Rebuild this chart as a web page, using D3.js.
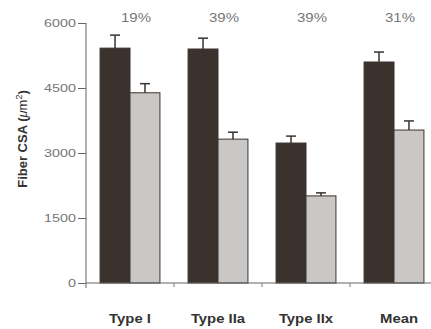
<!DOCTYPE html>
<html>
<head>
<meta charset="utf-8">
<script src="https://cdn.jsdelivr.net/npm/d3@7"></script>
<style>
  body { margin: 0; background: #fff; }
  svg { display: block; }
</style>
</head>
<body>
<script>
const categories = ["Type I", "Type IIa", "Type IIx", "Mean"];
const series = ["pre", "post"];
const means = {
  pre:  [5420, 5400, 3230, 5100],
  post: [4390, 3320, 2010, 3530]
};
const errors = {
  pre:  [300, 250, 160, 230],
  post: [210, 160, 70, 210]
};
const percents = ["19%", "39%", "39%", "31%"];
const yTicks = [0, 1500, 3000, 4500, 6000];

const svg = d3.select("body").append("svg")
  .attr("width", 431)
  .attr("height", 329);

const y = d3.scaleLinear()
  .domain([0, 6000])
  .range([283, 23]);

const x0 = d3.scaleBand()
  .domain(categories)
  .range([86, 438]);

const x1 = d3.scaleBand()
  .domain(series)
  .range([0, x0.bandwidth()])
  .paddingOuter(0.47);

const fill = { pre: "#3b322e", post: "#c9c8c6" };
const font = "'Liberation Sans', Arial, sans-serif";

// the scanned figure is a bit wider than tall, stretch the text to match
function widen(sel, k) {
  sel.each(function() {
    const w = this.getComputedTextLength();
    d3.select(this).attr("textLength", w * k).attr("lengthAdjust", "spacingAndGlyphs");
  });
}

// bars
const rows = [];
categories.forEach((c, i) => {
  series.forEach(s => rows.push({ c, s, v: means[s][i], e: errors[s][i] }));
});

const bar = svg.selectAll(".bar").data(rows)
  .enter().append("g")
  .attr("class", "bar")
  .attr("transform", d => `translate(${x0(d.c) + x1(d.s)}, 0)`);

bar.append("rect")
  .attr("y", d => y(d.v))
  .attr("width", x1.bandwidth())
  .attr("height", d => y(0) - y(d.v))
  .attr("fill", d => fill[d.s])
  .attr("stroke", "#3a3330")
  .attr("stroke-width", 1);

// error bars (upward only)
bar.append("line")
  .attr("x1", x1.bandwidth() / 2)
  .attr("x2", x1.bandwidth() / 2)
  .attr("y1", d => y(d.v))
  .attr("y2", d => y(d.v + d.e))
  .attr("stroke", "#3a3330")
  .attr("stroke-width", 1.5);

bar.append("line")
  .attr("x1", x1.bandwidth() / 2 - 5)
  .attr("x2", x1.bandwidth() / 2 + 5)
  .attr("y1", d => y(d.v + d.e))
  .attr("y2", d => y(d.v + d.e))
  .attr("stroke", "#3a3330")
  .attr("stroke-width", 1.5);

// y axis
const gy = svg.append("g")
  .attr("transform", "translate(86, 0)")
  .call(d3.axisLeft(y).tickValues(yTicks).tickFormat(d3.format("d")).tickSize(8).tickSizeOuter(0));
gy.select(".domain").attr("stroke", "#666").attr("d", `M0,${y(6000)}V${y(0) + 5}`);
gy.selectAll(".tick line").attr("stroke", "#666");
gy.selectAll(".tick text")
  .attr("x", -10)
  .attr("fill", "#777")
  .attr("font-family", font)
  .attr("font-size", 11.5)
  .call(widen, 1.25);

// x axis
const gx = svg.append("g")
  .attr("transform", `translate(0, ${y(0)})`);
gx.append("line")
  .attr("x1", 86).attr("x2", 431)
  .attr("stroke", "#666");
gx.selectAll(".xtick").data(categories.slice(1))
  .enter().append("line")
  .attr("class", "xtick")
  .attr("x1", d => x0(d)).attr("x2", d => x0(d))
  .attr("y1", 0).attr("y2", 4)
  .attr("stroke", "#777");

svg.selectAll(".xlabel").data(categories)
  .enter().append("text")
  .attr("class", "xlabel")
  .attr("x", (d, i) => x0(d) + x0.bandwidth() / 2 + (i === 3 ? 5 : 0))
  .attr("y", 323)
  .attr("text-anchor", "middle")
  .attr("font-family", font)
  .attr("font-weight", "bold")
  .attr("font-size", 13.5)
  .attr("fill", "#333")
  .text(d => d)
  .call(widen, 1.1);

// percent labels
svg.selectAll(".pct").data(percents)
  .enter().append("text")
  .attr("class", "pct")
  .attr("x", (d, i) => x0(categories[i]) + x0.bandwidth() / 2 + 6)
  .attr("y", 22)
  .attr("text-anchor", "middle")
  .attr("font-family", font)
  .attr("font-size", 12.5)
  .attr("fill", "#777")
  .text(d => d)
  .call(widen, 1.2);

// y title
const title = svg.append("text")
  .attr("transform", "translate(27, 139) rotate(-90)")
  .attr("text-anchor", "middle")
  .attr("font-family", font)
  .attr("font-weight", "bold")
  .attr("font-size", 13)
  .attr("fill", "#333");
title.append("tspan").text("Fiber CSA (");
title.append("tspan").attr("font-style", "italic").attr("font-weight", "normal").text("μ");
title.append("tspan").attr("font-weight", "normal").text("m");
title.append("tspan").attr("font-size", 9).attr("dy", -5).attr("font-weight", "normal").text("2");
title.append("tspan").attr("dy", 5).text(")");
</script>
</body>
</html>
